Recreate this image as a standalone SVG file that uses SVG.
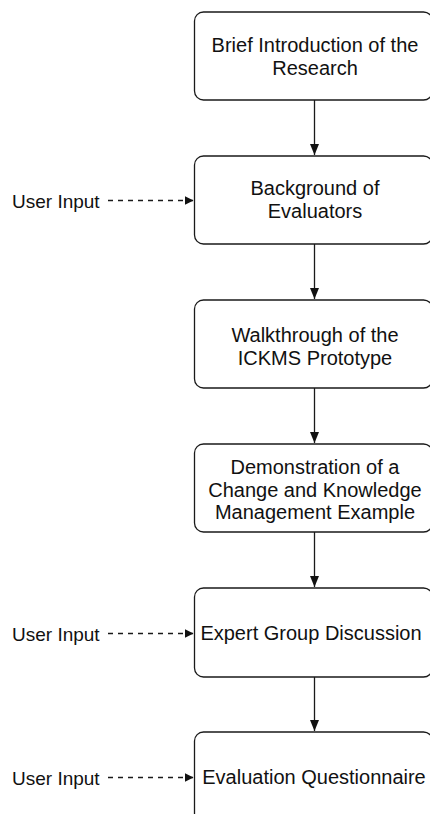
<svg xmlns="http://www.w3.org/2000/svg" width="430" height="814" viewBox="0 0 430 814">
<style>
.box{fill:#fff;stroke:#1a1a1a;stroke-width:1.3}
.t{font-family:"Liberation Sans",Arial,Helvetica,sans-serif;font-size:20px;fill:#111;text-anchor:middle}
.l{font-family:"Liberation Sans",Arial,Helvetica,sans-serif;font-size:19px;fill:#111}
.c{stroke:#1a1a1a;stroke-width:1.3;fill:none}
.d{stroke:#1a1a1a;stroke-width:1.3;fill:none;stroke-dasharray:5 5}
</style>
<defs>
<marker id="ah" markerWidth="9" markerHeight="9" refX="9" refY="4.5" orient="auto" markerUnits="userSpaceOnUse" viewBox="0 0 9 9">
<path d="M0,0 L9,4.5 L0,9 Z" fill="#111"/>
</marker>
<marker id="av" markerWidth="11" markerHeight="9" refX="11" refY="4.5" orient="auto" markerUnits="userSpaceOnUse" viewBox="0 0 11 9">
<path d="M0,0 L11,4.5 L0,9 Z" fill="#111"/>
</marker>
</defs>
<rect width="430" height="814" fill="#fff"/>
<g id="connectors">
<line class="c" x1="314.5" y1="100" x2="314.5" y2="155" marker-end="url(#av)"/>
<line class="c" x1="314.5" y1="244" x2="314.5" y2="299" marker-end="url(#av)"/>
<line class="c" x1="314.5" y1="388" x2="314.5" y2="443" marker-end="url(#av)"/>
<line class="c" x1="314.5" y1="532" x2="314.5" y2="587" marker-end="url(#av)"/>
<line class="c" x1="314.5" y1="677" x2="314.5" y2="731" marker-end="url(#av)"/>
<line class="d" x1="108" y1="200.5" x2="193.5" y2="200.5" marker-end="url(#ah)"/>
<line class="d" x1="108" y1="633.5" x2="193.5" y2="633.5" marker-end="url(#ah)"/>
<line class="d" x1="108" y1="777.5" x2="193.5" y2="777.5" marker-end="url(#ah)"/>
</g>
<g id="n1"><rect class="box" x="194.5" y="12" width="238" height="88" rx="9"/>
<text class="t" x="315" y="52">Brief Introduction of the</text>
<text class="t" x="315" y="75">Research</text></g>
<g id="n2"><rect class="box" x="194.5" y="156" width="238" height="88" rx="9"/>
<text class="t" x="315" y="195">Background of</text>
<text class="t" x="315" y="218">Evaluators</text></g>
<g id="n3"><rect class="box" x="194.5" y="300" width="238" height="88" rx="9"/>
<text class="t" x="315" y="341.5">Walkthrough of the</text>
<text class="t" x="315" y="364.5">ICKMS Prototype</text></g>
<g id="n4"><rect class="box" x="194.5" y="444" width="238" height="88" rx="9"/>
<text class="t" x="315" y="473.5">Demonstration of a</text>
<text class="t" x="315" y="496.5">Change and Knowledge</text>
<text class="t" x="315" y="519">Management Example</text></g>
<g id="n5"><rect class="box" x="194.5" y="588" width="238" height="89" rx="9"/>
<text class="t" x="311" y="640">Expert Group Discussion</text></g>
<g id="n6"><rect class="box" x="194.5" y="732" width="238" height="100" rx="9"/>
<text class="t" x="314" y="784">Evaluation Questionnaire</text></g>
<g id="u1"><text class="l" x="12" y="207.5">User Input</text></g>
<g id="u2"><text class="l" x="12" y="640.5">User Input</text></g>
<g id="u3"><text class="l" x="12" y="784.5">User Input</text></g>
</svg>
